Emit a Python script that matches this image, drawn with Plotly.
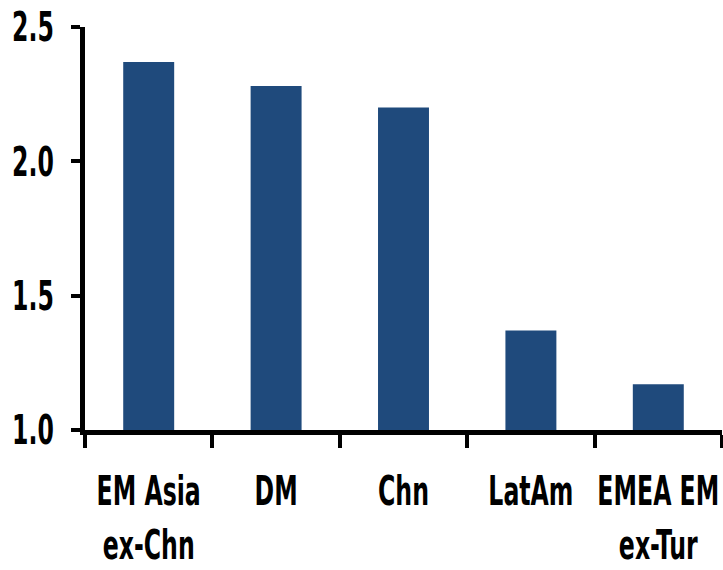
import plotly.graph_objects as go

categories = ["EM Asia<br>ex-Chn", "DM", "Chn", "LatAm", "EMEA EM<br>ex-Tur"]
values = [2.37, 2.28, 2.20, 1.37, 1.17]
y_ticks = [1.0, 1.5, 2.0, 2.5]
y_tick_labels = ["1.0", "1.5", "2.0", "2.5"]

baseline = 1.0
bar_color = "#1f4a7c"
font_family = "DejaVu Sans Condensed, DejaVu Sans, sans-serif"
label_font = dict(family=font_family, size=41, color="black", weight="bold")

fig = go.Figure(
    go.Bar(
        x=categories,
        y=[v - baseline for v in values],
        base=baseline,
        marker=dict(color=bar_color, line=dict(width=0)),
        width=0.4,
    )
)

fig.update_layout(
    width=723,
    height=570,
    margin=dict(l=85, r=1, t=27, b=140),
    plot_bgcolor="white",
    paper_bgcolor="white",
    showlegend=False,
    font=label_font,
)
fig.update_xaxes(
    type="category",
    range=[-0.5, 4.5],
    automargin=False,
    tickangle=0,
    showline=True,
    linecolor="black",
    linewidth=5,
    ticks="outside",
    tickson="boundaries",
    ticklen=13,
    tickwidth=4,
    tickcolor="black",
    showgrid=False,
    ticklabelstandoff=21,
    tickfont=label_font,
)
fig.update_yaxes(
    range=[1.0, 2.5],
    automargin=False,
    tickvals=y_ticks,
    ticktext=y_tick_labels,
    showline=True,
    linecolor="black",
    linewidth=5,
    ticks="outside",
    ticklen=9,
    tickwidth=4,
    tickcolor="black",
    showgrid=False,
    zeroline=False,
    ticklabelstandoff=9,
    tickfont=label_font,
)

# Narrow the tick labels horizontally (tall, tightly set lettering).
squeeze_js = """
var gd = document.getElementById('{plot_id}');
gd.querySelectorAll('.xtick text, .ytick text').forEach(function (t) {
  var lines = t.querySelectorAll('tspan.line');
  var items = lines.length ? Array.prototype.slice.call(lines) : [t];
  items.forEach(function (el) {
    var len = el.getComputedTextLength();
    el.setAttribute('textLength', (len * 0.64).toFixed(1));
    el.setAttribute('lengthAdjust', 'spacingAndGlyphs');
  });
});
"""

fig.write_html("out.html", post_script=squeeze_js)
